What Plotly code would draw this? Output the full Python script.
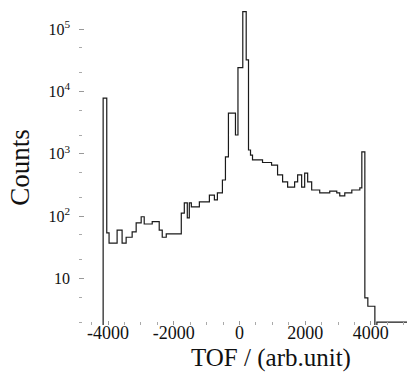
import plotly.graph_objects as go

# Time-of-flight histogram, stored as step segments: left edge of each
# segment (arb. units) and the counts it holds.
tof_edges = [-4900, -4150, -4040, -3970, -3725, -3573, -3450, -3267, -3145,
             -2992, -2900, -2656, -2443, -2351, -2229, -1771, -1679, -1588,
             -1527, -1465, -1221, -916, -763, -672, -519, -427, -336, -122,
             -46, 101, 205, 275, 336, 397, 702, 977, 1160, 1313, 1466, 1679,
             1771, 1893, 1985, 2076, 2198, 2443, 2748, 2962, 3053, 3206,
             3420, 3664, 3725, 3817, 3908, 4122, 4183]
counts = [1, 7800, 54, 37, 60, 37, 46, 56, 78,
          98, 75, 82, 60, 46, 52, 112, 163, 94,
          163, 141, 170, 218, 182, 236, 380, 890, 4500, 2000,
          24000, 190000, 32000, 1150, 950, 800, 725, 660, 460, 354, 293, 354,
          460, 293, 490, 354, 263, 236, 253, 236, 211, 236,
          263, 284, 1070, 4.9, 3.6, 1, 2]
tof_end = 5100

x_ticks = [-4000, -2000, 0, 2000, 4000]
x_tick_text = ["-4000", "-2000", "0", "2000", "4000"]
y_ticks = [10, 100, 1000, 10000, 100000]
y_tick_text = ["10", "10<sup>2</sup>", "10<sup>3</sup>", "10<sup>4</sup>", "10<sup>5</sup>"]

serif = "Liberation Serif"

fig = go.Figure()
fig.add_trace(go.Scatter(
    x=tof_edges + [tof_end],
    y=counts + [counts[-1]],
    mode="lines",
    line=dict(shape="hv", color="#1a1a1a", width=1.2),
    hoverinfo="x+y",
    showlegend=False,
))

fig.update_layout(
    width=409, height=375,
    margin=dict(l=79, r=2, t=10, b=50),
    paper_bgcolor="white", plot_bgcolor="white",
    font=dict(family=serif, color="#111"),
    xaxis=dict(
        range=[-4885, 5100],
        tickvals=x_ticks, ticktext=x_tick_text,
        ticks="inside", ticklen=4, tickcolor="#999", tickwidth=1,
        minor=dict(dtick=500, ticks="inside", ticklen=3, tickcolor="#aaa"),
        showline=False, showgrid=False, zeroline=False,
        tickfont=dict(family=serif, size=18, color="#111"),
        ticklabelstandoff=-5,
    ),
    yaxis=dict(
        type="log",
        range=[0.256, 5.305],
        tickvals=y_ticks, ticktext=y_tick_text,
        ticks="inside", ticklen=5, tickcolor="#999", tickwidth=1,
        minor=dict(ticks="inside", ticklen=3, tickcolor="#aaa"),
        showline=False, showgrid=False, zeroline=False,
        tickfont=dict(family=serif, size=16, color="#111"),
        ticklabelstandoff=8,
        title=dict(text="Counts", font=dict(family=serif, size=27, color="#111"), standoff=10),
    ),
    annotations=[dict(
        text="TOF / (arb.unit)", xref="paper", yref="paper",
        x=0.585, y=-0.055, xanchor="center", yanchor="top", showarrow=False,
        font=dict(family=serif, size=25, color="#111"),
    )],
)

fig.write_html("out.html")
